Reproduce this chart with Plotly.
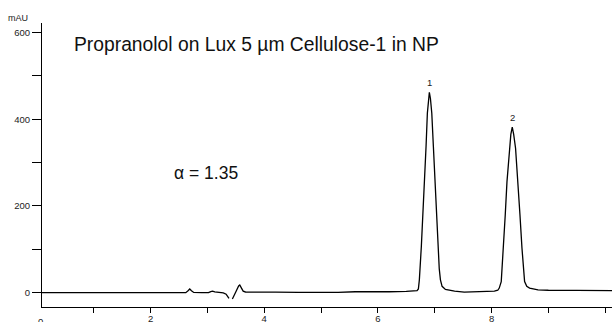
import plotly.graph_objects as go

# Chromatogram trace (time in min, absorbance in mAU)
time_min = [0.09, 0.5, 1.0, 1.5, 2.0, 2.4, 2.62, 2.66, 2.69, 2.72, 2.76, 2.9,
            3.02, 3.06, 3.09, 3.13, 3.2, 3.28, 3.33, 3.36, 3.38, 3.41,
            3.44, 3.47, 3.51, 3.55, 3.57, 3.60, 3.63, 3.67, 3.8, 4.2, 4.6,
            5.0, 5.3, 5.6, 5.9, 6.2, 6.5, 6.65, 6.69, 6.713, 6.730, 6.765,
            6.795, 6.825, 6.848, 6.871, 6.89, 6.906, 6.925, 6.949, 6.977,
            7.002, 7.03, 7.055, 7.08, 7.101, 7.13, 7.189, 7.25, 7.35, 7.52,
            7.7, 7.9, 8.05, 8.11, 8.136, 8.171, 8.212, 8.242, 8.272, 8.312,
            8.34, 8.365, 8.39, 8.423, 8.466, 8.50, 8.536, 8.582, 8.62, 8.670,
            8.818, 9.0, 9.5, 10.12]
absorbance = [-0.5, -0.5, -1, -1.5, -1.5, -1, -0.5, 4, 8, 4, 0, -0.5,
              -0.5, 2, 3, 1, 0, -1, -4, -10, -14, None,
              -15, -8, 4, 15, 17, 10, 3, 1, 0.5, 0.5, 0,
              -0.5, 0, 1.5, 1, 1.5, 2.5, 3, 4, 8, 29, 106,
              180, 260, 337, 414, 448, 462, 448, 414, 337,
              260, 180, 106, 55, 29, 14, 7, 5, 3, 0.5,
              1, 2, 3, 5, 10, 25, 102, 180, 256, 333,
              365, 382, 365, 333, 256, 180, 102, 25, 14, 10,
              6, 5, 4.5, 4]

peak_labels = ["1", "2"]
peak_times = [6.906, 8.365]
peak_heights = [462, 382]

x_tickvals = [1, 2, 3, 4, 5, 6, 7, 8, 9, 10]
x_ticktext = ["", "2", "", "4", "", "6", "", "8", "", "min"]
x_origin_label = "0"
y_tickvals = [0, 100, 200, 300, 400, 500, 600]
y_ticktext = ["0", "", "200", "", "400", "", "600"]

title_text = "Propranolol on Lux 5 µm Cellulose-1 in NP"
alpha_text = "α = 1.35"
y_unit = "mAU"

FONT = "Liberation Sans, Arial, Helvetica, sans-serif"
W, H = 612, 322
ML, MR, MT, MB = 42, 0, 23, 15
PW, PH = W - ML - MR, H - MT - MB


def px_x(p):
    return (p - ML) / PW


def px_y(p):
    return (H - MB - p) / PH


fig = go.Figure()
fig.add_trace(go.Scatter(x=time_min, y=absorbance, mode="lines",
                         line=dict(color="black", width=1.3),
                         connectgaps=False, hoverinfo="skip"))

annotations = []
for lab, t, h in zip(peak_labels, peak_times, peak_heights):
    annotations.append(dict(x=t, y=h, xref="x", yref="y", text=lab,
                            showarrow=False, yanchor="middle", yshift=10,
                            font=dict(family=FONT, size=9.5, color="#222")))
annotations += [
    dict(x=px_x(72), y=px_y(44), xref="paper", yref="paper", text=title_text,
         showarrow=False, xanchor="left", yanchor="middle",
         font=dict(family=FONT, size=19.3, color="#111")),
    dict(x=px_x(172), y=px_y(173), xref="paper", yref="paper", text=alpha_text,
         showarrow=False, xanchor="left", yanchor="middle",
         font=dict(family=FONT, size=17.5, color="#111")),
    dict(x=px_x(17.5), y=px_y(17.5), xref="paper", yref="paper", text=y_unit,
         showarrow=False, xanchor="center", yanchor="middle",
         font=dict(family=FONT, size=9, color="#222")),
    dict(x=px_x(40), y=px_y(321.5), xref="paper", yref="paper", text=x_origin_label,
         showarrow=False, xanchor="center", yanchor="middle",
         font=dict(family=FONT, size=9.5, color="#222")),
]

fig.update_layout(
    width=W, height=H,
    margin=dict(l=ML, r=MR, t=MT, b=MB, pad=0),
    paper_bgcolor="white", plot_bgcolor="white",
    showlegend=False,
    annotations=annotations,
    xaxis=dict(range=[0.09, 10.12], tickvals=x_tickvals, ticktext=x_ticktext,
               ticks="outside", ticklen=5, tickwidth=1, tickcolor="black",
               showline=True, linecolor="black", linewidth=1,
               showgrid=False, zeroline=False, automargin=False,
               ticklabelstandoff=-2,
               tickfont=dict(family=FONT, size=9.5, color="#222")),
    yaxis=dict(range=[-33.7, 622.4], tickvals=y_tickvals, ticktext=y_ticktext,
               ticks="outside", ticklen=9, tickwidth=1, tickcolor="black",
               showline=True, linecolor="black", linewidth=1.2,
               showgrid=False, zeroline=False, automargin=False,
               tickfont=dict(family=FONT, size=9.5, color="#222")),
)

fig.write_html("out.html", config={"displayModeBar": False},
               post_script="document.body.style.margin='0';document.body.style.overflow='hidden';")
